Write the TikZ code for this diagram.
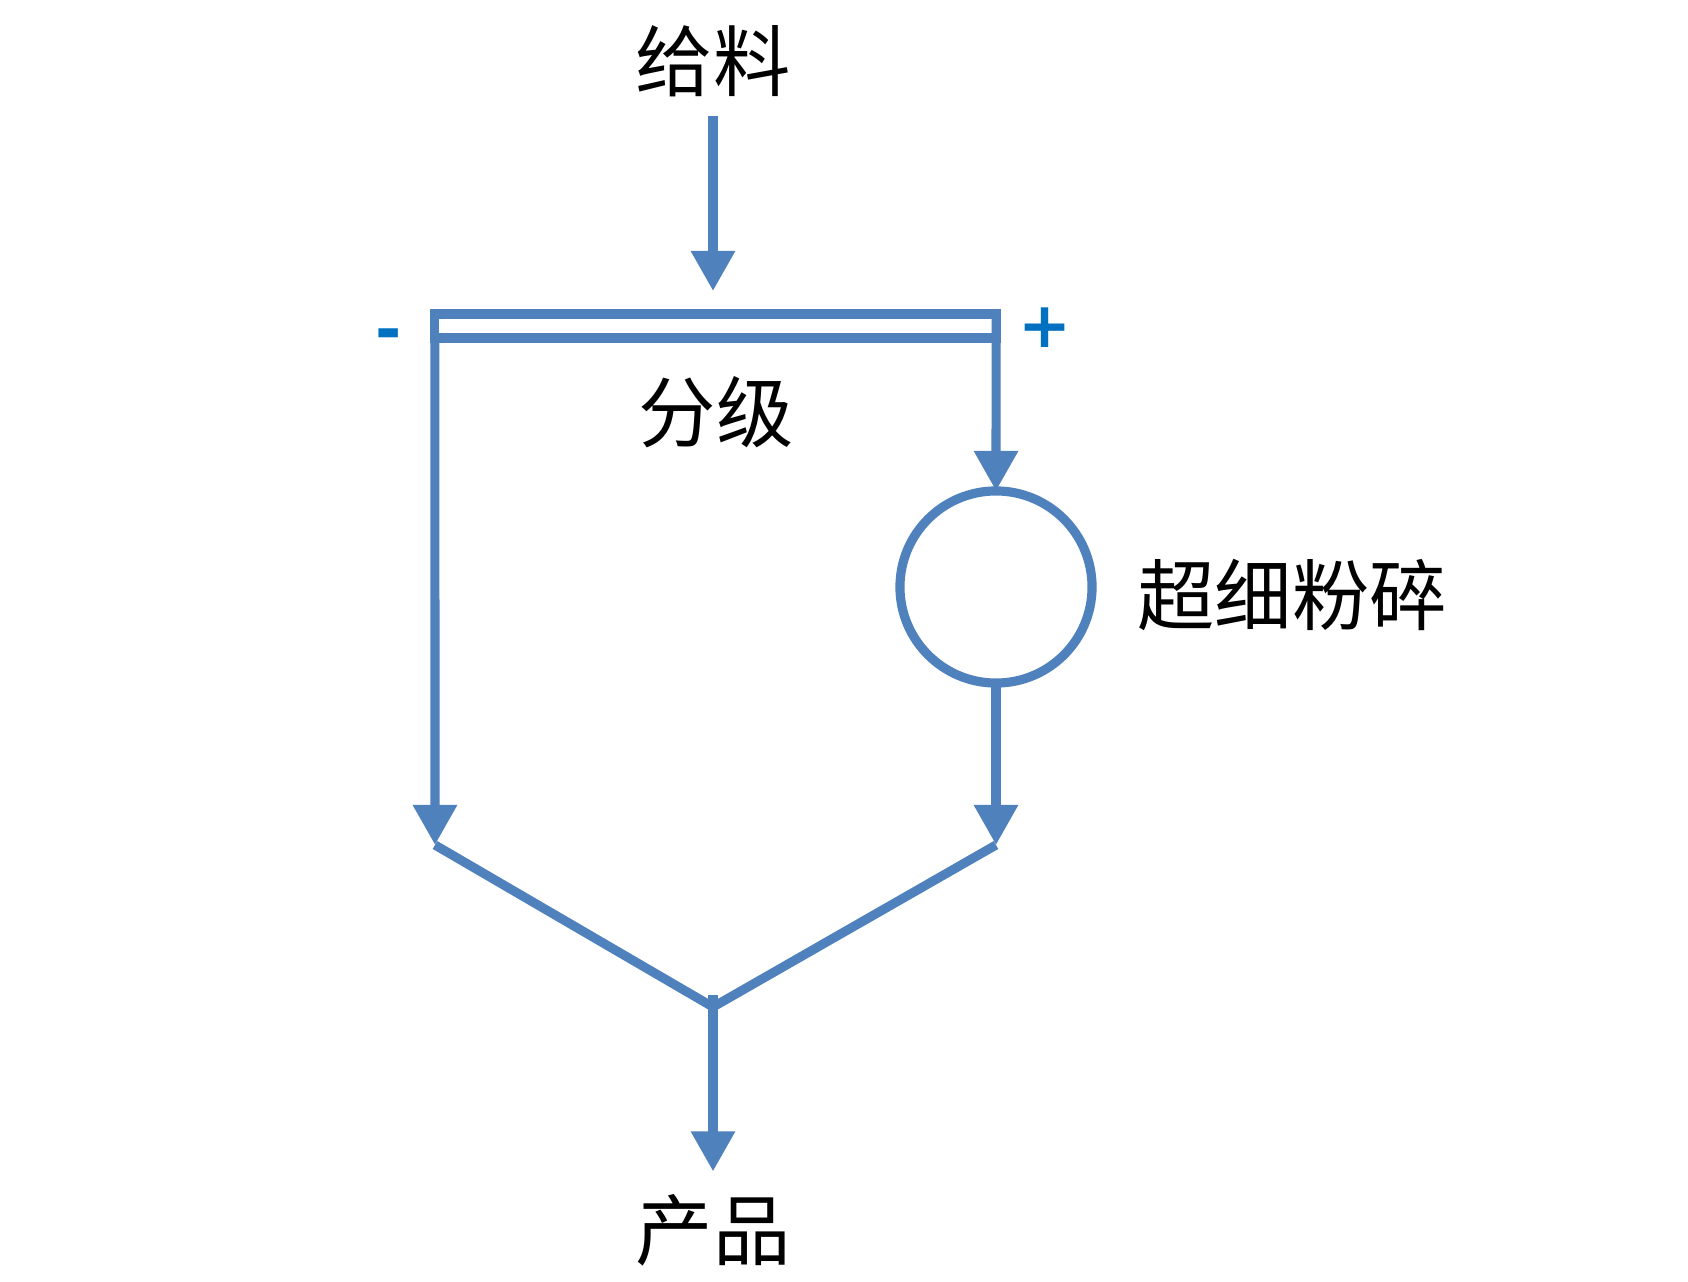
\documentclass[tikz,border=0pt]{standalone}
\usepackage{fontspec}
\newfontfamily\cjk{Noto Sans CJK SC}
\newfontfamily\signfont{DejaVu Sans}
\usetikzlibrary{arrows.meta}
\definecolor{flowblue}{RGB}{79,129,189}
\definecolor{signblue}{RGB}{0,112,192}
\tikzset{
  flow/.style={draw=flowblue, line width=2.6pt},
  flowarrow/.style={flow, -{Triangle[width=0.42cm,length=0.4cm]}},
  label/.style={font=\cjk\fontsize{22}{26}\selectfont, inner sep=0pt},
  sign/.style={font=\signfont\bfseries\fontsize{18}{22}\selectfont, text=signblue, inner sep=0pt}
}
\begin{document}
\begin{tikzpicture}[x=0.01cm, y=-0.01cm]
  \useasboundingbox[fill=white] (0,0) rectangle (1688,1282);
  \node[label] (feed) at (713,61) {给料};
  \node[flow, minimum width=5.61cm, minimum height=0.24cm, inner sep=0pt, outer sep=0pt] (screen) at (715.5,326) {};
  \node[label] (classify) at (716,412) {分级};
  \node[sign] (minus) at (389,340) {-};
  \node[sign] (plus) at (1045,328) {+};
  \node[flow, circle, minimum size=1.92cm, inner sep=0pt, outer sep=0pt] (mill) at (996,587) {};
  \node[label] (milllabel) at (1292,595) {超细粉碎};
  \node[label] (product) at (713,1230) {产品};
  \coordinate (jl) at (435,845);
  \coordinate (jr) at (996,845);
  \coordinate (jm) at (713,1007);
  \draw[flowarrow, shorten >=0.23cm] (feed.south |- 0,116) -- (feed.south |- screen.north);
  \draw[flowarrow] (screen.south west) -- (jl);
  \draw[flowarrow] (screen.north east) -- (mill.north);
  \draw[flowarrow] (mill.south) -- (jr);
  \draw[flow] (jl) -- (jm) -- (jr);
  \draw[flowarrow, shorten >=0.22cm] (jm |- 0,995) -- (jm |- product.north);
\end{tikzpicture}
\end{document}
